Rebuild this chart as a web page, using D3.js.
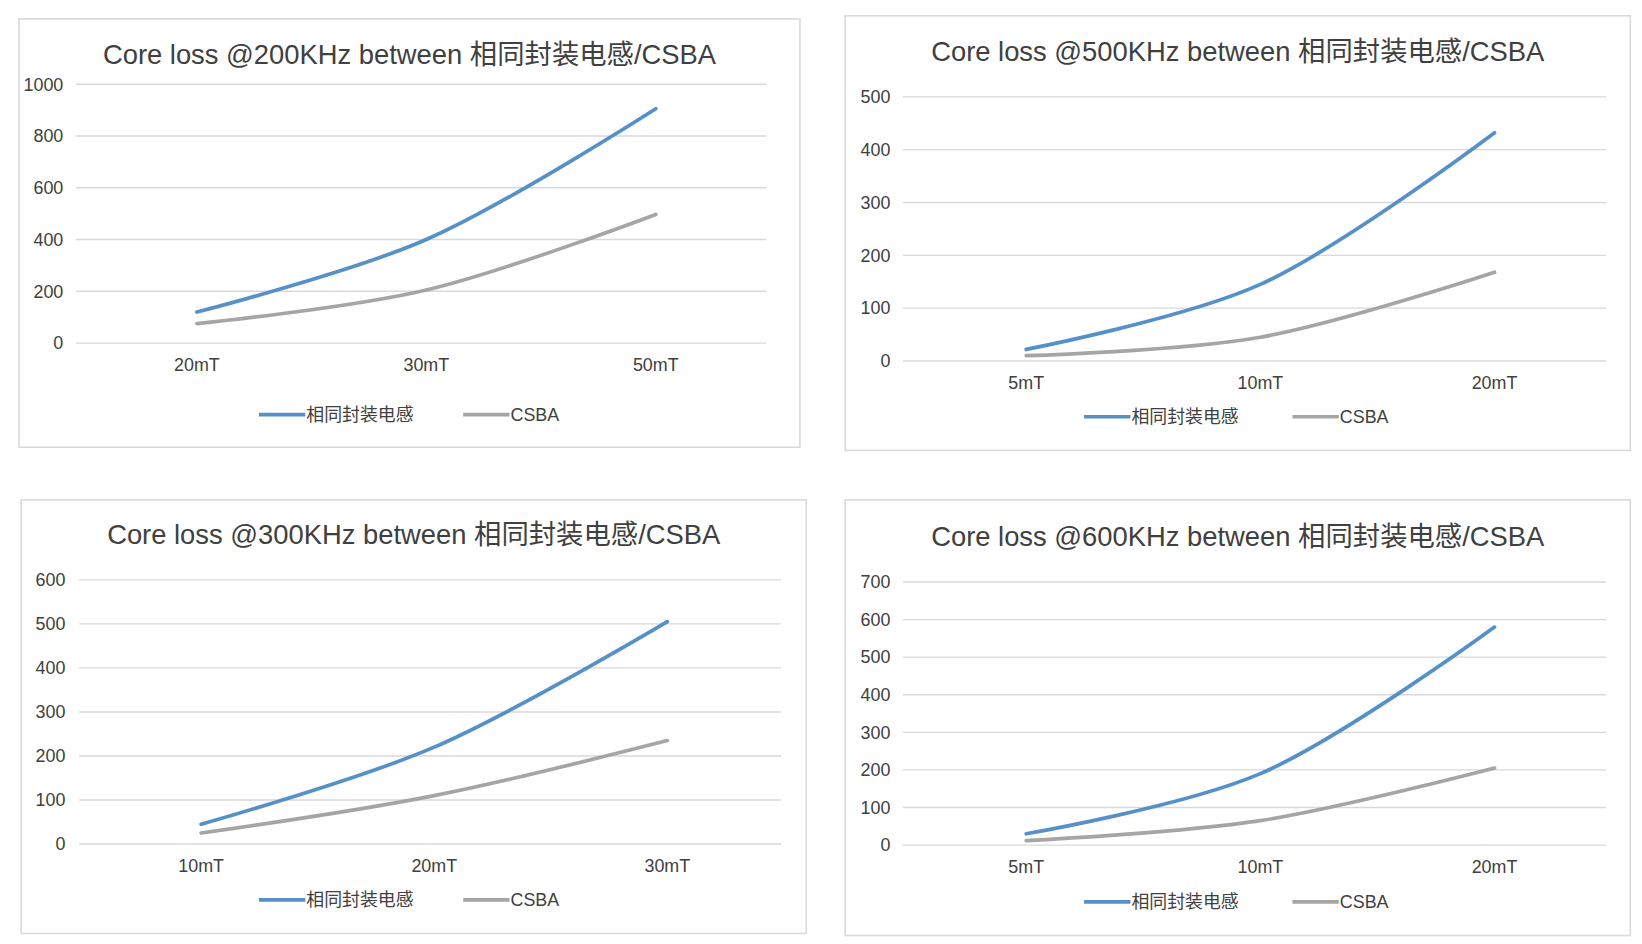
<!DOCTYPE html>
<html><head><meta charset="utf-8">
<script src="https://cdn.jsdelivr.net/npm/d3@7"></script>
<style>body{margin:0;background:#fff}svg{display:block}</style>
</head><body>
<svg id="chart" width="1642" height="944" viewBox="0 0 1560 897"></svg>
<script>
const seriesNames = ['相同封装电感', 'CSBA'];
const colors = ['#5590c8', '#a5a5a5'];

const freqs = ['200KHz', '500KHz', '300KHz', '600KHz'];
const cats200 = ['20mT', '30mT', '50mT'];
const cats500 = ['5mT', '10mT', '20mT'];
const cats300 = ['10mT', '20mT', '30mT'];
const cats600 = ['5mT', '10mT', '20mT'];

const inductor200 = [120, 400, 905];
const csba200 = [75, 205, 497];
const inductor500 = [22, 145, 432];
const csba500 = [10, 45, 168];
const inductor300 = [45, 220, 505];
const csba300 = [25, 110, 235];
const inductor600 = [30, 190, 580];
const csba600 = [12, 65, 205];

const ticks200 = [0, 200, 400, 600, 800, 1000];
const ticks500 = [0, 100, 200, 300, 400, 500];
const ticks300 = [0, 100, 200, 300, 400, 500, 600];
const ticks600 = [0, 100, 200, 300, 400, 500, 600, 700];

// layout of each panel (view coordinates)
const panels = [
  { box: [18, 18, 760, 425], titleY: 52, top: 80, bottom: 326, gl: 72, gr: 728, cx: [187, 623], legY: 394, legX: [246, 440], cats: cats200, data: [inductor200, csba200], ticks: ticks200, freq: freqs[0], lblX: 60 },
  { box: [803, 15, 1549, 428], titleY: 49, top: 92, bottom: 343, gl: 858, gr: 1526, cx: [975, 1420], legY: 396, legX: [1030, 1228], cats: cats500, data: [inductor500, csba500], ticks: ticks500, freq: freqs[1], lblX: 846 },
  { box: [20, 475, 766, 887], titleY: 508, top: 551, bottom: 802, gl: 75, gr: 742, cx: [191, 634], legY: 855, legX: [246, 440], cats: cats300, data: [inductor300, csba300], ticks: ticks300, freq: freqs[2], lblX: 62 },
  { box: [803, 475, 1549, 889], titleY: 510, top: 553, bottom: 803, gl: 858, gr: 1526, cx: [975, 1420], legY: 857, legX: [1030, 1228], cats: cats600, data: [inductor600, csba600], ticks: ticks600, freq: freqs[3], lblX: 846 },
];

const svg = d3.select('#chart');
const font = '"Liberation Sans", Arial, "Noto Sans CJK SC", sans-serif';

panels.forEach((p) => {
  const g = svg.append('g').style('font-family', font);
  g.append('rect')
    .attr('x', p.box[0]).attr('y', p.box[1])
    .attr('width', p.box[2] - p.box[0]).attr('height', p.box[3] - p.box[1])
    .attr('fill', '#fff').attr('stroke', '#d9d9d9').attr('stroke-width', 1.5);

  g.append('text')
    .attr('x', (p.box[0] + p.box[2]) / 2).attr('y', p.titleY + 9)
    .attr('text-anchor', 'middle').attr('font-size', 26).attr('fill', '#404040')
    .text(`Core loss @${p.freq} between 相同封装电感/CSBA`);

  const y = d3.scaleLinear().domain([0, d3.max(p.ticks)]).range([p.bottom, p.top]);
  const x = d3.scalePoint().domain(p.cats).range(p.cx);

  g.selectAll('.grid').data(p.ticks).join('line')
    .attr('x1', p.gl).attr('x2', p.gr)
    .attr('y1', (d) => y(d)).attr('y2', (d) => y(d))
    .attr('stroke', '#d9d9d9').attr('stroke-width', 1.3);

  g.selectAll('.ylab').data(p.ticks).join('text')
    .attr('x', p.lblX).attr('y', (d) => y(d) + 6)
    .attr('text-anchor', 'end').attr('font-size', 17).attr('fill', '#404040')
    .text((d) => d);

  g.selectAll('.xlab').data(p.cats).join('text')
    .attr('x', (d) => x(d)).attr('y', p.bottom + 27)
    .attr('text-anchor', 'middle').attr('font-size', 17).attr('fill', '#404040')
    .text((d) => d);

  const line = d3.line()
    .x((d, i) => x(p.cats[i]))
    .y((d) => y(d))
    .curve(d3.curveCatmullRom.alpha(0.5));

  p.data.slice().reverse().forEach((vals, k) => {
    const idx = p.data.length - 1 - k;
    g.append('path').attr('d', line(vals))
      .attr('fill', 'none').attr('stroke', colors[idx])
      .attr('stroke-width', 3.5).attr('stroke-linecap', 'round');
  });

  seriesNames.forEach((name, i) => {
    const lx = p.legX[i];
    g.append('line').attr('x1', lx).attr('x2', lx + 44)
      .attr('y1', p.legY).attr('y2', p.legY)
      .attr('stroke', colors[i]).attr('stroke-width', 3.5);
    g.append('text').attr('x', lx + 45).attr('y', p.legY + 6)
      .attr('font-size', 17).attr('fill', '#404040').text(name);
  });
});
</script>
</body></html>
